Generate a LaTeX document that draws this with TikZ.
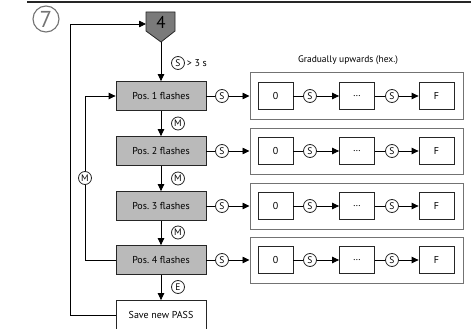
\documentclass[tikz,border=0pt]{standalone}
\usepackage{fontspec}
\setmainfont{PT Sans}
\usetikzlibrary{shapes,arrows.meta}
\tikzstyle{posbox}=[draw=black!85,fill=black!27,minimum width=90pt,minimum height=29pt,inner sep=1pt,font=\fontsize{10}{11}\selectfont]
\tikzstyle{savebox}=[posbox,fill=white]
\tikzstyle{hexbox}=[draw=black!55,line width=1pt,minimum width=213pt,minimum height=46pt]
\tikzstyle{digbox}=[draw=black!85,minimum width=35pt,minimum height=27pt,font=\fontsize{10}{11}\selectfont]
\tikzstyle{key}=[circle,draw=black!85,fill=white,minimum size=13pt,inner sep=0pt,font=\fontsize{9.5}{10}\selectfont]
\tikzstyle{arr}=[-{Triangle[length=7pt,width=6.5pt]}]

\begin{document}
\begin{tikzpicture}[x=1pt,y=-1pt,line width=0.8pt]
\useasboundingbox (0,0) rectangle (471,329);
\draw[line width=1.1pt,black!85] (27,2) -- (471,2);
\node[circle,draw=black!55,line width=1.1pt,minimum size=26pt,inner sep=0pt,text=black!55,font=\fontsize{23}{23}\selectfont] (seven) at (46,19) {7};
% start block
\draw[draw=black!85,fill=black!52] (146,12) -- (175,12) -- (175,31) -- (161,42) -- (146,31) -- cycle;
\node[font=\fontsize{17}{17}\selectfont] (four) at (161,22) {4};
\coordinate (fourin) at (146,24);
\coordinate (fourtip) at (161,42);
% positions
\foreach \i/\y in {1/96,2/151,3/206,4/260}{
  \node[posbox] (pos\i) at (161,\y) {Pos.~\i{} flashes};
  \node[hexbox] (hex\i) at (356.5,\y) {};
  \node[digbox] (zero\i) at (275.5,\y) {0};
  \node[digbox] (dots\i) at (357,\y) {\dots};
  \node[digbox] (eff\i) at (436.5,\y) {F};
  \node[key] (s\i) at (222,\y) {S};
  \node[key] (sa\i) at (310,\y) {S};
  \node[key] (sb\i) at (392,\y) {S};
  \draw (pos\i) -- (s\i);
  \draw[arr] (s\i) -- (hex\i);
  \draw (zero\i) -- (sa\i);
  \draw[arr] (sa\i) -- (dots\i);
  \draw (dots\i) -- (sb\i);
  \draw[arr] (sb\i) -- (eff\i);
}
\node[font=\fontsize{9.5}{10}\selectfont] (title) at (348,60) {Gradually upwards (hex.)};
\node[savebox] (save) at (161,315) {Save new PASS};
% steps
\draw[arr] (fourtip) -- (pos1);
\node[key] (slong) at (178,63) {S};
\node[right,inner sep=1.5pt,font=\fontsize{10}{11}\selectfont] (gt) at (slong.east) {> 3 s};
\foreach \i/\j/\y in {1/2/123.5,2/3/178.5,3/4/232.5}{
  \draw[arr] (pos\i) -- (pos\j);
  \node[key] (m\i) at (178,\y) {M};
}
\draw[arr] (pos4) -- (save);
\node[key] (e) at (178,287) {E};
% loops
\node[key] (mloop) at (85,178) {M};
\draw[arr] (pos4.west) -| (mloop) |- (pos1.west);
\draw[arr] (save.west) -| (70,24) -- (fourin);
\end{tikzpicture}
\end{document}
